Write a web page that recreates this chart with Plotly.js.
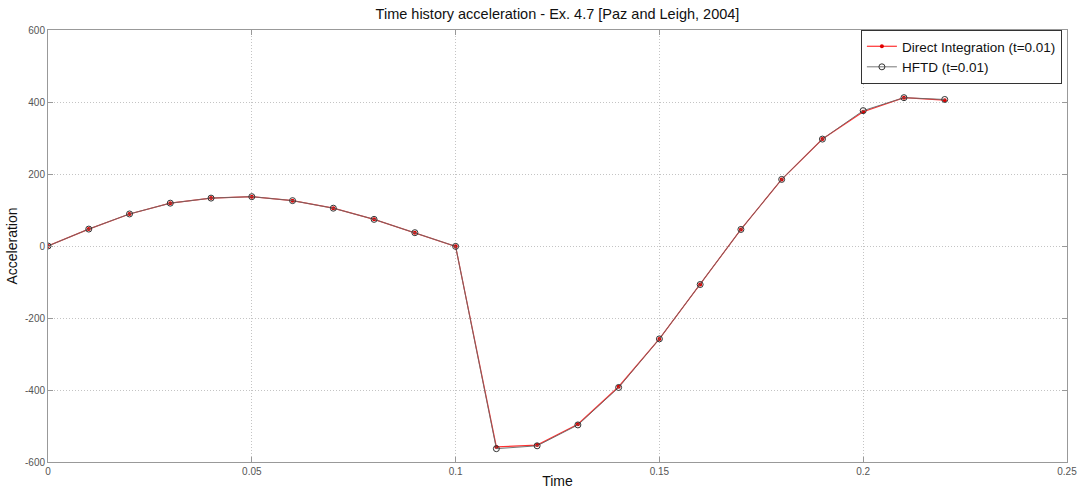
<!DOCTYPE html>
<html>
<head>
<meta charset="utf-8">
<script src="https://cdn.plot.ly/plotly-3.0.1.min.js"></script>
<style>html,body{margin:0;padding:0;background:#fff;}#chart{width:1081px;height:492px;}</style>
</head>
<body>
<div id="chart"></div>
<script>
const time = [0, 0.01, 0.02, 0.03, 0.04, 0.05, 0.06, 0.07, 0.08, 0.09, 0.10, 0.11, 0.12, 0.13, 0.14, 0.15, 0.16, 0.17, 0.18, 0.19, 0.20, 0.21, 0.22];
const directIntegration = [0, 47, 89, 119, 133, 137, 126, 105, 74, 37, -1, -558, -553, -495, -391, -258, -107, 46, 185, 297, 373, 412, 405];
const hftd = [0, 47, 89, 119, 133, 137, 126, 105, 74, 37, -1, -563, -555, -497, -393, -258, -107, 46, 185, 297, 376, 412, 407];
const xTicks = [0, 0.05, 0.1, 0.15, 0.2, 0.25];
const xTickLabels = ["0", "0.05", "0.1", "0.15", "0.2", "0.25"];
const yTicks = [-600, -400, -200, 0, 200, 400, 600];
const yTickLabels = ["-600", "-400", "-200", "0", "200", "400", "600"];

const traces = [
  {x: time, y: directIntegration, name: "Direct Integration (t=0.01)", mode: "lines+markers",
   line: {color: "#ff3030", width: 1.2}, marker: {symbol: "circle", size: 4, color: "#e00000"}},
  {x: time, y: hftd, name: "HFTD (t=0.01)", mode: "lines+markers",
   line: {color: "#666666", width: 0.9}, marker: {symbol: "circle-open", size: 6, color: "#333333", line: {width: 1, color: "#333333"}}}
];
const axisCommon = {
  showline: true, mirror: "ticks", linecolor: "#999", linewidth: 1,
  ticks: "inside", ticklen: 5, tickcolor: "#999",
  showgrid: true, gridcolor: "#c4c4c4", griddash: "1px,2px", gridwidth: 1,
  zeroline: false, tickfont: {family: "Liberation Sans, Arial, sans-serif", size: 10, color: "#555"}
};
const layout = {
  width: 1081, height: 492,
  margin: {l: 48, r: 14, t: 30, b: 30},
  paper_bgcolor: "#fff", plot_bgcolor: "#fff",
  font: {family: "Liberation Sans, Arial, sans-serif", color: "#111"},
  title: {text: "Time history acceleration - Ex. 4.7 [Paz and Leigh, 2004]", font: {size: 14.5, color: "#111"}, xref: "paper", x: 0.5, xanchor: "center", y: 0.972, yanchor: "middle"},
  xaxis: Object.assign({}, axisCommon, {range: [0, 0.25], tickvals: xTicks, ticktext: xTickLabels,
    title: {text: "Time", font: {size: 14, color: "#111"}, standoff: 0}}),
  yaxis: Object.assign({}, axisCommon, {range: [-600, 600], tickvals: yTicks, ticktext: yTickLabels,
    title: {text: "Acceleration", font: {size: 14, color: "#111"}, standoff: 4}}),
  showlegend: true,
  legend: {x: 0.995, y: 1.0, xanchor: "right", yanchor: "top", bgcolor: "#fff", bordercolor: "#333", borderwidth: 1,
    font: {size: 13.5, color: "#111"}, tracegroupgap: 0, itemwidth: 30}
};
Plotly.newPlot("chart", traces, layout, {displayModeBar: false, staticPlot: true});
</script>
</body>
</html>
